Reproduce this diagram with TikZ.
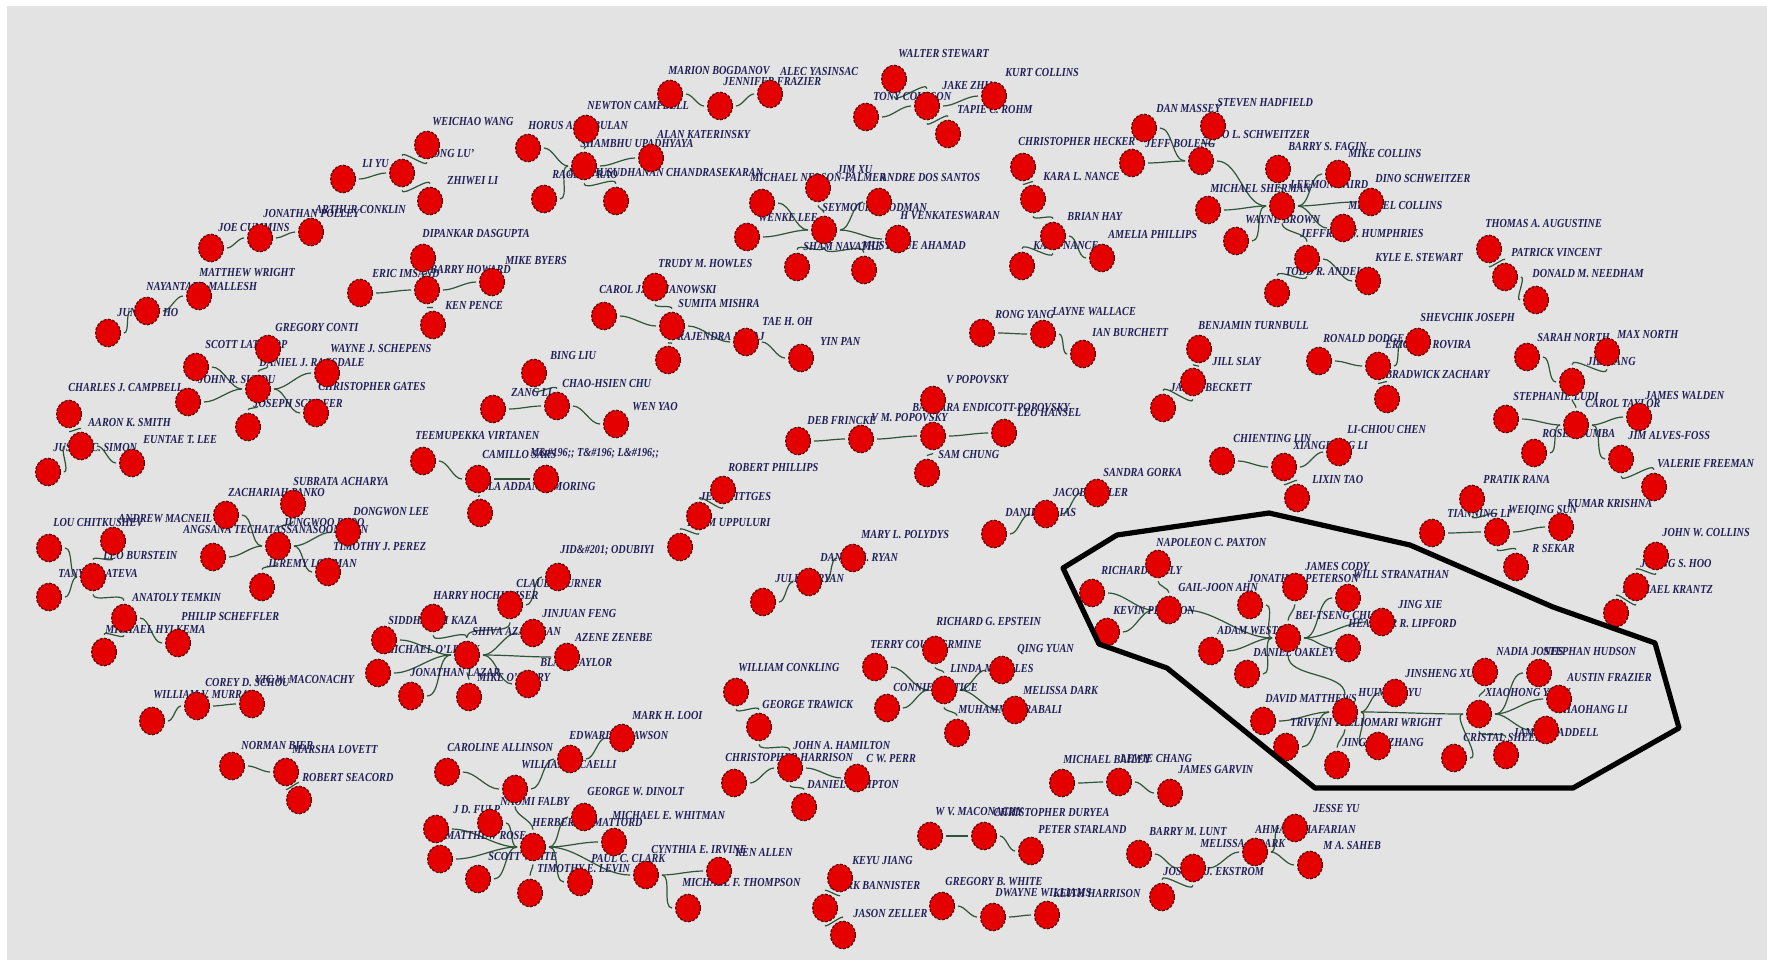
\documentclass[tikz,border=0pt]{standalone}
\usepackage{fontspec}
\usepackage{graphicx}
\setmainfont{Liberation Serif}
\usetikzlibrary{shapes.geometric}
\definecolor{bgg}{RGB}{227,227,227}
\definecolor{nodered}{RGB}{228,0,0}
\definecolor{noderim}{RGB}{90,10,10}
\definecolor{edgegreen}{RGB}{45,85,55}
\definecolor{labnavy}{RGB}{32,32,88}
\pgfdeclarelayer{bg}
\pgfdeclarelayer{edges}
\pgfdeclarelayer{labels}
\pgfdeclarelayer{top}
\pgfsetlayers{bg,edges,labels,main,top}
\tikzset{
  pn/.style={ellipse,fill=nodered,draw=noderim,line width=0.6pt,dash pattern=on 1.4pt off 0.8pt,minimum width=12.4pt,minimum height=13.8pt,inner sep=0pt},
  lab/.style={anchor=west,inner sep=0pt,text=labnavy,font=\bfseries\itshape\fontsize{5.1pt}{6pt}\selectfont},
  edge/.style={draw=edgegreen,line width=0.6pt,shorten <=1.5pt,shorten >=1.5pt},
  hull/.style={draw=black,line width=2.6pt,line join=round}
}
\newcommand\mkpers[3]{\node[pn] (#1) at (#2,#3) {};}
\newcommand\mklbl[4]{\node[lab] (#1) at (#2,#3) {\scalebox{1}[1.2]{#4}};}
\begin{document}
\begin{tikzpicture}[x=0.5pt,y=-0.5pt]
\useasboundingbox (0,0) rectangle (1767,960);
\begin{pgfonlayer}{bg}
\fill[white] (0,0) rectangle (1767,960);
\fill[bgg] (7,6) rectangle (1767,960);
\end{pgfonlayer}
% ---------------- persons ----------------
\mkpers{a1}{343}{179}\mkpers{a2}{402}{173}\mkpers{a3}{427}{145}\mkpers{a4}{430}{201}
\mkpers{b1}{211}{248}\mkpers{b2}{260}{238}\mkpers{b3}{311}{232}
\mkpers{c1}{108}{333}\mkpers{c2}{147}{311}\mkpers{c3}{199}{296}
\mkpers{d1}{423}{258}\mkpers{d2}{360}{293}\mkpers{d3}{427}{290}\mkpers{d4}{433}{325}\mkpers{d5}{492}{282}
\mkpers{e1}{528}{148}\mkpers{e2}{586}{129}\mkpers{e3}{584}{166}\mkpers{e4}{651}{158}\mkpers{e5}{544}{199}\mkpers{e6}{616}{201}
\mkpers{f1}{670}{94}\mkpers{f2}{720}{106}\mkpers{f3}{770}{94}
\mkpers{g1}{894}{79}\mkpers{g2}{927}{106}\mkpers{g3}{994}{96}\mkpers{g4}{948}{134}\mkpers{g5}{866}{117}
\mkpers{h1}{762}{203}\mkpers{h2}{818}{188}\mkpers{h3}{824}{230}\mkpers{h4}{747}{237}\mkpers{h5}{797}{267}\mkpers{h6}{864}{270}\mkpers{h7}{879}{202}\mkpers{h8}{898}{239}
\mkpers{i1}{655}{287}\mkpers{i2}{604}{316}\mkpers{i3}{672}{326}\mkpers{i4}{668}{360}\mkpers{i5}{746}{342}\mkpers{i6}{801}{358}
\mkpers{j1}{1023}{167}\mkpers{j2}{1033}{199}\mkpers{j3}{1053}{236}\mkpers{j4}{1022}{266}\mkpers{j5}{1102}{258}
\mkpers{k1}{1144}{128}\mkpers{k2}{1213}{126}\mkpers{k3}{1201}{161}\mkpers{k4}{1132}{163}\mkpers{k5}{1282}{206}
\mkpers{k6}{1208}{210}\mkpers{k7}{1236}{241}\mkpers{k8}{1278}{169}\mkpers{k9}{1307}{259}\mkpers{k10}{1277}{293}
\mkpers{k11}{1338}{174}\mkpers{k12}{1371}{202}\mkpers{k13}{1343}{228}\mkpers{k14}{1368}{281}
\mkpers{l1}{1489}{249}\mkpers{l2}{1505}{277}\mkpers{l3}{1536}{300}
\mkpers{m1}{982}{333}\mkpers{m2}{1043}{334}\mkpers{m3}{1083}{354}
\mkpers{n1}{1199}{349}\mkpers{n2}{1193}{382}\mkpers{n3}{1163}{408}
\mkpers{o1}{1319}{361}\mkpers{o2}{1378}{366}\mkpers{o3}{1418}{342}\mkpers{o4}{1387}{399}
\mkpers{p1}{1527}{357}\mkpers{p2}{1607}{352}\mkpers{p3}{1572}{382}\mkpers{p4}{1506}{419}\mkpers{p5}{1576}{425}
\mkpers{p6}{1534}{453}\mkpers{p7}{1639}{417}\mkpers{p8}{1621}{459}\mkpers{p9}{1654}{487}
\mkpers{q1}{1472}{499}\mkpers{q2}{1432}{533}\mkpers{q3}{1497}{532}\mkpers{q4}{1561}{527}\mkpers{q5}{1516}{567}
\mkpers{r1}{1656}{556}\mkpers{r2}{1636}{587}\mkpers{r3}{1616}{613}
\mkpers{s1}{268}{349}\mkpers{s2}{196}{367}\mkpers{s3}{327}{373}\mkpers{s4}{258}{389}\mkpers{s5}{188}{402}\mkpers{s6}{316}{413}\mkpers{s7}{248}{427}
\mkpers{t1}{69}{414}\mkpers{t2}{81}{446}\mkpers{t3}{48}{472}\mkpers{t4}{132}{463}
\mkpers{u1}{226}{515}\mkpers{u2}{293}{504}\mkpers{u3}{348}{532}\mkpers{u4}{213}{557}\mkpers{u5}{278}{546}\mkpers{u6}{328}{572}\mkpers{u7}{262}{587}
\mkpers{v1}{49}{548}\mkpers{v2}{113}{541}\mkpers{v3}{93}{577}\mkpers{v4}{49}{597}\mkpers{v5}{124}{618}\mkpers{v6}{104}{652}\mkpers{v7}{178}{643}
\mkpers{w1}{534}{373}\mkpers{w2}{493}{409}\mkpers{w3}{557}{406}\mkpers{w4}{616}{424}
\mkpers{x1}{423}{461}\mkpers{x2}{478}{479}\mkpers{x3}{546}{479}\mkpers{x4}{480}{513}
\mkpers{y1}{723}{490}\mkpers{y2}{699}{516}\mkpers{y3}{680}{547}
\mkpers{z1}{798}{441}\mkpers{z2}{861}{439}\mkpers{z3}{933}{436}\mkpers{z4}{933}{400}\mkpers{z5}{1004}{433}\mkpers{z6}{927}{473}
\mkpers{aa1}{1097}{493}\mkpers{aa2}{1046}{514}\mkpers{aa3}{994}{534}
\mkpers{ab1}{1222}{461}\mkpers{ab2}{1284}{467}\mkpers{ab3}{1297}{498}\mkpers{ab4}{1339}{452}
\mkpers{ac1}{853}{558}\mkpers{ac2}{809}{582}\mkpers{ac3}{763}{602}
\mkpers{ad1}{433}{618}\mkpers{ad2}{510}{605}\mkpers{ad3}{384}{640}\mkpers{ad4}{467}{655}\mkpers{ad5}{378}{673}\mkpers{ad6}{411}{696}
\mkpers{ad7}{469}{697}\mkpers{ad8}{528}{684}\mkpers{ad9}{567}{657}\mkpers{ad10}{533}{633}\mkpers{ad11}{558}{577}
\mkpers{ae1}{152}{721}\mkpers{ae2}{197}{706}\mkpers{ae3}{252}{704}
\mkpers{af1}{232}{766}\mkpers{af2}{286}{772}\mkpers{af3}{299}{800}
\mkpers{ag1}{447}{772}\mkpers{ag2}{515}{789}\mkpers{ag3}{570}{759}\mkpers{ag4}{622}{738}\mkpers{ag5}{490}{823}\mkpers{ag6}{584}{817}
\mkpers{ag7}{436}{829}\mkpers{ag8}{440}{859}\mkpers{ag9}{533}{847}\mkpers{ag10}{614}{842}\mkpers{ag11}{478}{879}\mkpers{ag12}{530}{893}
\mkpers{ag13}{580}{882}\mkpers{ag14}{646}{875}\mkpers{ag15}{719}{871}\mkpers{ag16}{688}{908}
\mkpers{ah1}{736}{692}\mkpers{ah2}{759}{727}\mkpers{ah3}{790}{768}\mkpers{ah4}{734}{783}\mkpers{ah5}{804}{807}\mkpers{ah6}{857}{778}
\mkpers{ai1}{840}{878}\mkpers{ai2}{825}{908}\mkpers{ai3}{843}{935}
\mkpers{aj1}{875}{667}\mkpers{aj2}{935}{650}\mkpers{aj3}{1002}{670}\mkpers{aj4}{944}{690}\mkpers{aj5}{887}{708}\mkpers{aj6}{957}{733}\mkpers{aj7}{1015}{710}
\mkpers{ak1}{1062}{783}\mkpers{ak2}{1119}{782}\mkpers{ak3}{1170}{793}
\mkpers{al1}{930}{836}\mkpers{al2}{984}{836}\mkpers{al3}{1031}{851}
\mkpers{am1}{942}{906}\mkpers{am2}{993}{917}\mkpers{am3}{1047}{915}
\mkpers{an1}{1139}{854}\mkpers{an2}{1193}{868}\mkpers{an3}{1162}{897}\mkpers{an4}{1255}{852}\mkpers{an5}{1295}{828}\mkpers{an6}{1310}{865}
\mkpers{ao1}{1158}{564}\mkpers{ao2}{1092}{593}\mkpers{ao3}{1169}{610}\mkpers{ao4}{1107}{632}\mkpers{ao5}{1250}{605}\mkpers{ao6}{1295}{587}
\mkpers{ao7}{1288}{638}\mkpers{ao8}{1211}{651}\mkpers{ao9}{1247}{674}\mkpers{ao10}{1348}{598}\mkpers{ao11}{1382}{622}\mkpers{ao12}{1348}{648}
\mkpers{ao13}{1345}{712}\mkpers{ao14}{1263}{721}\mkpers{ao15}{1286}{747}\mkpers{ao16}{1395}{693}\mkpers{ao17}{1378}{746}\mkpers{ao18}{1337}{765}
\mkpers{ao19}{1479}{714}\mkpers{ao20}{1485}{672}\mkpers{ao21}{1539}{673}\mkpers{ao22}{1559}{699}\mkpers{ao23}{1546}{730}\mkpers{ao24}{1454}{758}\mkpers{ao25}{1506}{755}
% ---------------- connectors ----------------
\begin{pgfonlayer}{edges}
% mostly horizontal links: leave and enter horizontally
\foreach \u/\v in {a1/a2,b1/b2,b2/b3,c1/c2,c2/c3,d2/d3,d3/d5,e1/e3,e3/e4,e5/e3,f1/f2,f2/f3,g2/g3,g5/g2,
 h1/h3,h4/h3,h3/h7,h3/h8,i2/i3,i3/i5,i5/i6,j3/j5,k1/k3,k4/k3,k3/k5,k6/k5,k7/k5,k5/k11,k5/k12,k5/k13,k9/k14,
 l2/l3,m1/m2,m2/m3,o1/o2,o2/o3,p1/p3,p4/p5,p6/p5,p5/p7,p5/p8,q2/q3,q3/q4,
 s2/s4,s4/s3,s5/s4,s4/s6,t3/t2,t2/t4,u1/u5,u5/u3,u4/u5,u5/u6,v1/v3,v4/v3,v5/v7,w2/w3,w3/w4,x1/x2,x2/x3,
 z1/z2,z2/z3,z3/z5,aa2/aa1,aa3/aa2,ab1/ab2,ab2/ab4,ac2/ac1,ac3/ac2,
 ad3/ad4,ad5/ad4,ad6/ad4,ad4/ad8,ad4/ad9,ad4/ad10,ad2/ad11,ae1/ae2,ae2/ae3,af1/af2,
 ag1/ag2,ag2/ag3,ag3/ag4,ag5/ag9,ag9/ag6,ag7/ag9,ag8/ag9,ag9/ag10,ag11/ag9,ag9/ag13,ag9/ag14,ag14/ag15,ag14/ag16,
 ah4/ah3,ah3/ah6,aj1/aj4,aj4/aj3,aj5/aj4,aj4/aj7,ak1/ak2,ak2/ak3,al1/al2,al2/al3,am1/am2,am2/am3,
 an1/an2,an2/an4,an4/an5,an4/an6,
 ao2/ao3,ao4/ao3,ao3/ao7,ao5/ao7,ao8/ao7,ao9/ao7,ao7/ao10,ao7/ao11,ao7/ao12,
 ao14/ao13,ao15/ao13,ao13/ao16,ao13/ao17,ao13/ao19,ao19/ao21,ao19/ao22,ao19/ao23,ao24/ao19}
 \draw[edge] (\u) to[out=0,in=180,looseness=0.9] (\v);
% mostly vertical links: leave and enter vertically
\foreach \u/\v in {a3/a2,a2/a4,d1/d3,d3/d4,e2/e3,e3/e6,g1/g2,g2/g4,h2/h3,h3/h5,h3/h6,i1/i3,i3/i4,
 j1/j2,j2/j3,j3/j4,k2/k3,k8/k5,k5/k9,k9/k10,l1/l2,n1/n2,n2/n3,o2/o4,p2/p3,p3/p5,p8/p9,q1/q3,q3/q5,r1/r2,r2/r3,
 s1/s4,s4/s7,t1/t2,u2/u5,u5/u7,v2/v3,v3/v5,v5/v6,w1/w3,x2/x4,y1/y2,y2/y3,z4/z3,z3/z6,ab2/ab3,
 ad1/ad4,ad2/ad4,ad4/ad7,af2/af3,ag2/ag9,ag9/ag12,ah1/ah2,ah2/ah3,ah3/ah5,ai1/ai2,ai2/ai3,aj2/aj4,aj4/aj6,an2/an3,
 ao1/ao3,ao6/ao7,ao7/ao13,ao13/ao18,ao20/ao19,ao19/ao25}
 \draw[edge] (\u) to[out=-90,in=90,looseness=0.9] (\v);
\end{pgfonlayer}
% ---------------- labels ----------------
\begin{pgfonlayer}{labels}
\mklbl{ta1}{432}{122}{WEICHAO WANG}\mklbl{ta2}{418}{153}{ZHONG LU'}\mklbl{ta3}{362}{164}{LI YU}\mklbl{ta4}{447}{181}{ZHIWEI LI}
\mklbl{tb1}{263}{213}{JONATHAN POLLEY}\mklbl{tb2}{315}{209}{ARTHUR CONKLIN}\mklbl{tb3}{218}{227}{JOE CUMMINS}
\mklbl{tc1}{199}{273}{MATTHEW WRIGHT}\mklbl{tc2}{146}{286}{NAYANTARA MALLESH}\mklbl{tc3}{117}{313}{JUNWEN HO}
\mklbl{td1}{422}{233}{DIPANKAR DASGUPTA}\mklbl{td2}{372}{273}{ERIC IMSAND}\mklbl{td3}{430}{270}{BARRY HOWARD}\mklbl{td4}{505}{260}{MIKE BYERS}\mklbl{td5}{445}{305}{KEN PENCE}
\mklbl{te1}{528}{126}{HORUS AKKABULAN}\mklbl{te2}{587}{106}{NEWTON CAMPBELL}\mklbl{te3}{657}{135}{ALAN KATERINSKY}\mklbl{te4}{580}{143}{SHAMBHU UPADHYAYA}
\mklbl{te5}{552}{175}{RAGHAV RAO}\mklbl{te6}{568}{172}{MADHUSUDHANAN CHANDRASEKARAN}
\mklbl{tf1}{668}{71}{MARION BOGDANOV}\mklbl{tf2}{780}{72}{ALEC YASINSAC}\mklbl{tf3}{723}{82}{JENNIFER FRAZIER}
\mklbl{tg1}{898}{54}{WALTER STEWART}\mklbl{tg2}{1005}{73}{KURT COLLINS}\mklbl{tg3}{942}{86}{JAKE ZHU}\mklbl{tg4}{873}{97}{TONY COULSON}\mklbl{tg5}{957}{110}{TAPIE C. ROHM}
\mklbl{th1}{750}{177}{MICHAEL NELSON-PALMER}\mklbl{th2}{880}{177}{ANDRE DOS SANTOS}\mklbl{th3}{837}{170}{JIM XU}\mklbl{th4}{822}{207}{SEYMOUR GOODMAN}
\mklbl{th5}{900}{216}{H VENKATESWARAN}\mklbl{th6}{758}{218}{WENKE LEE}\mklbl{th7}{803}{247}{SHAM NAVATHE}\mklbl{th8}{862}{246}{MUSTAQUE AHAMAD}
\mklbl{ti1}{658}{264}{TRUDY M. HOWLES}\mklbl{ti2}{599}{290}{CAROL J. ROMANOWSKI}\mklbl{ti3}{678}{303}{SUMITA MISHRA}\mklbl{ti4}{762}{322}{TAE H. OH}
\mklbl{ti5}{677}{337}{RAJENDRA K. RAJ}\mklbl{ti6}{820}{341}{YIN PAN}
\mklbl{tj1}{1018}{142}{CHRISTOPHER HECKER}\mklbl{tj2}{1043}{177}{KARA L. NANCE}\mklbl{tj3}{1067}{216}{BRIAN HAY}\mklbl{tj4}{1108}{234}{AMELIA PHILLIPS}\mklbl{tj5}{1033}{245}{KARA NANCE}
\mklbl{tk1}{1156}{108}{DAN MASSEY}\mklbl{tk2}{1217}{103}{STEVEN HADFIELD}\mklbl{tk3}{1145}{143}{JEFF BOLENG}\mklbl{tk4}{1203}{135}{DINO L. SCHWEITZER}
\mklbl{tk5}{1288}{147}{BARRY S. FAGIN}\mklbl{tk6}{1348}{153}{MIKE COLLINS}\mklbl{tk7}{1210}{188}{MICHAEL SHERMAN}\mklbl{tk8}{1290}{185}{LEEMON BAIRD}
\mklbl{tk9}{1375}{179}{DINO SCHWEITZER}\mklbl{tk10}{1348}{205}{MICHAEL COLLINS}\mklbl{tk11}{1245}{220}{WAYNE BROWN}\mklbl{tk12}{1300}{234}{JEFFREY W. HUMPHRIES}
\mklbl{tk13}{1285}{272}{TODD R. ANDEL}\mklbl{tk14}{1375}{258}{KYLE E. STEWART}
\mklbl{tl1}{1485}{224}{THOMAS A. AUGUSTINE}\mklbl{tl2}{1511}{253}{PATRICK VINCENT}\mklbl{tl3}{1532}{274}{DONALD M. NEEDHAM}
\mklbl{tm1}{995}{314}{RONG YANG}\mklbl{tm2}{1052}{312}{LAYNE WALLACE}\mklbl{tm3}{1092}{332}{IAN BURCHETT}
\mklbl{tn1}{1198}{326}{BENJAMIN TURNBULL}\mklbl{tn2}{1212}{361}{JILL SLAY}\mklbl{tn3}{1170}{387}{JASON BECKETT}
\mklbl{to1}{1420}{318}{SHEVCHIK JOSEPH}\mklbl{to2}{1323}{338}{RONALD DODGE}\mklbl{to3}{1385}{345}{ERICSON ROVIRA}\mklbl{to4}{1385}{375}{BRADWICK ZACHARY}
\mklbl{tp1}{1537}{337}{SARAH NORTH}\mklbl{tp2}{1617}{334}{MAX NORTH}\mklbl{tp3}{1587}{362}{JIE WANG}\mklbl{tp4}{1513}{396}{STEPHANIE LUDI}
\mklbl{tp5}{1585}{403}{CAROL TAYLOR}\mklbl{tp6}{1645}{396}{JAMES WALDEN}\mklbl{tp7}{1542}{433}{ROSE SHUMBA}\mklbl{tp8}{1628}{436}{JIM ALVES-FOSS}\mklbl{tp9}{1657}{464}{VALERIE FREEMAN}
\mklbl{tq1}{1483}{479}{PRATIK RANA}\mklbl{tq2}{1447}{513}{TIANNING LI}\mklbl{tq3}{1508}{510}{WEIQING SUN}\mklbl{tq4}{1567}{503}{KUMAR KRISHNA}\mklbl{tq5}{1532}{548}{R SEKAR}
\mklbl{tr1}{1662}{533}{JOHN W. COLLINS}\mklbl{tr2}{1640}{564}{JOHNG S. HOO}\mklbl{tr3}{1622}{589}{MICHAEL KRANTZ}
\mklbl{ts1}{275}{327}{GREGORY CONTI}\mklbl{ts2}{205}{344}{SCOTT LATHROP}\mklbl{ts3}{330}{349}{WAYNE J. SCHEPENS}\mklbl{ts4}{259}{363}{DANIEL J. RAGSDALE}
\mklbl{ts5}{318}{386}{CHRISTOPHER GATES}\mklbl{ts6}{68}{388}{CHARLES J. CAMPBELL}\mklbl{ts7}{198}{380}{JOHN R. SURDU}\mklbl{ts8}{253}{403}{JOSEPH SCHAFER}
\mklbl{tt1}{88}{423}{AARON K. SMITH}\mklbl{tt2}{143}{440}{EUNTAE T. LEE}\mklbl{tt3}{53}{448}{JUSTIN C. SIMON}
\mklbl{tu1}{293}{481}{SUBRATA ACHARYA}\mklbl{tu2}{228}{492}{ZACHARIAH PANKO}\mklbl{tu3}{353}{512}{DONGWON LEE}\mklbl{tu4}{118}{519}{ANDREW MACNEIL}
\mklbl{tu5}{183}{529}{ANGSANA TECHATASSANASOONTORN}\mklbl{tu6}{283}{523}{JUNGWOO RYOO}\mklbl{tu7}{333}{547}{TIMOTHY J. PEREZ}\mklbl{tu8}{267}{564}{JEREMY LOWMAN}
\mklbl{tv1}{53}{523}{LOU CHITKUSHEV}\mklbl{tv2}{103}{555}{LEO BURSTEIN}\mklbl{tv3}{58}{574}{TANYA ZLATEVA}\mklbl{tv4}{132}{597}{ANATOLY TEMKIN}
\mklbl{tv5}{181}{616}{PHILIP SCHEFFLER}\mklbl{tv6}{105}{629}{MICHAEL HYLKEMA}
\mklbl{tw1}{550}{355}{BING LIU}\mklbl{tw2}{511}{392}{ZANG LI}\mklbl{tw3}{562}{383}{CHAO-HSIEN CHU}\mklbl{tw4}{632}{407}{WEN YAO}
\mklbl{tx1}{415}{436}{TEEMUPEKKA VIRTANEN}\mklbl{tx2}{482}{453}{CAMILLO S\"ARS}\mklbl{tx3}{530}{453}{M\&\#196;; T\&\#196; L\&\#196;;}\mklbl{tx4}{468}{486}{PAULA ADDANKI-MORING}
\mklbl{ty1}{728}{467}{ROBERT PHILLIPS}\mklbl{ty2}{700}{496}{JEFF PITTGES}\mklbl{ty3}{687}{523}{PREM UPPULURI}
\mklbl{tz1}{807}{420}{DEB FRINCKE}\mklbl{tz2}{871}{418}{V M. POPOVSKY}\mklbl{tz3}{946}{380}{V POPOVSKY}\mklbl{tz4}{912}{408}{BARBARA ENDICOTT-POPOVSKY}
\mklbl{tz5}{1017}{412}{LEO HANSEL}\mklbl{tz6}{938}{454}{SAM CHUNG}
\mklbl{taa1}{1103}{472}{SANDRA GORKA}\mklbl{taa2}{1053}{492}{JACOB MILLER}\mklbl{taa3}{1005}{512}{DANIEL ELIAS}
\mklbl{tab1}{1233}{438}{CHIENTING LIN}\mklbl{tab2}{1293}{445}{XIANGDONG LI}\mklbl{tab3}{1347}{429}{LI-CHIOU CHEN}\mklbl{tab4}{1312}{479}{LIXIN TAO}
\mklbl{tac1}{861}{535}{MARY L. POLYDYS}\mklbl{tac2}{820}{558}{DANIEL J. RYAN}\mklbl{tac3}{775}{579}{JULIE J. RYAN}
\mklbl{tad1}{433}{595}{HARRY HOCHHEISER}\mklbl{tad2}{388}{620}{SIDDHARTH KAZA}\mklbl{tad3}{516}{583}{CLAUDE TURNER}\mklbl{tad4}{560}{550}{JID\&\#201; ODUBIYI}
\mklbl{tad5}{542}{613}{JINJUAN FENG}\mklbl{tad6}{472}{632}{SHIVA AZADEGAN}\mklbl{tad7}{575}{637}{AZENE ZENEBE}\mklbl{tad8}{385}{649}{MICHAEL O'LEARY}
\mklbl{tad9}{540}{662}{BLAIR TAYLOR}\mklbl{tad10}{410}{672}{JONATHAN LAZAR}\mklbl{tad11}{477}{677}{MIKE O'LEARY}
\mklbl{tae1}{205}{683}{COREY D. SCHOU}\mklbl{tae2}{255}{680}{VIC W. MACONACHY}\mklbl{tae3}{153}{695}{WILLIAM V. MURRAY}
\mklbl{taf1}{241}{745}{NORMAN BIER}\mklbl{taf2}{292}{750}{MARSHA LOVETT}\mklbl{taf3}{302}{777}{ROBERT SEACORD}
\mklbl{tag1}{447}{747}{CAROLINE ALLINSON}\mklbl{tag2}{632}{716}{MARK H. LOOI}\mklbl{tag3}{569}{736}{EDWARD P. DAWSON}\mklbl{tag4}{521}{765}{WILLIAM J. CAELLI}
\mklbl{tag5}{587}{792}{GEORGE W. DINOLT}\mklbl{tag6}{500}{801}{NAOMI FALBY}\mklbl{tag7}{453}{810}{J D. FULP}\mklbl{tag8}{532}{823}{HERBERT J. MATTORD}
\mklbl{tag9}{612}{816}{MICHAEL E. WHITMAN}\mklbl{tag10}{445}{836}{MATTHEW ROSE}\mklbl{tag11}{488}{857}{SCOTT WHITE}\mklbl{tag12}{537}{869}{TIMOTHY E. LEVIN}
\mklbl{tag13}{591}{859}{PAUL C. CLARK}\mklbl{tag14}{651}{850}{CYNTHIA E. IRVINE}\mklbl{tag15}{735}{852}{KEN ALLEN}\mklbl{tag16}{682}{883}{MICHAEL F. THOMPSON}
\mklbl{tah1}{738}{668}{WILLIAM CONKLING}\mklbl{tah2}{762}{705}{GEORGE TRAWICK}\mklbl{tah3}{793}{746}{JOHN A. HAMILTON}\mklbl{tah4}{725}{757}{CHRISTOPHER HARRISON}
\mklbl{tah5}{866}{759}{C W. PERR}\mklbl{tah6}{807}{784}{DANIEL COMPTON}
\mklbl{tai1}{852}{860}{KEYU JIANG}\mklbl{tai2}{830}{885}{MARK BANNISTER}\mklbl{tai3}{853}{913}{JASON ZELLER}
\mklbl{taj1}{936}{622}{RICHARD G. EPSTEIN}\mklbl{taj2}{870}{644}{TERRY COUNTERMINE}\mklbl{taj3}{1017}{649}{QING YUAN}\mklbl{taj4}{950}{668}{LINDA MORALES}
\mklbl{taj5}{893}{687}{CONNIE JUSTICE}\mklbl{taj6}{1023}{690}{MELISSA DARK}\mklbl{taj7}{958}{710}{MUHAMMAD RABALI}
\mklbl{tak1}{1063}{759}{MICHAEL BAILEY}\mklbl{tak2}{1120}{759}{LEWIE CHANG}\mklbl{tak3}{1178}{770}{JAMES GARVIN}
\mklbl{tal1}{935}{812}{W V. MACONACHY}\mklbl{tal2}{993}{812}{CHRISTOPHER DURYEA}\mklbl{tal3}{1038}{829}{PETER STARLAND}
\mklbl{tam1}{945}{882}{GREGORY B. WHITE}\mklbl{tam2}{995}{893}{DWAYNE WILLIAMS}\mklbl{tam3}{1053}{893}{KEITH HARRISON}
\mklbl{tan1}{1149}{832}{BARRY M. LUNT}\mklbl{tan2}{1200}{844}{MELISSA J. DARK}\mklbl{tan3}{1163}{872}{JOSEPH J. EKSTROM}
\mklbl{tan4}{1313}{808}{JESSE YU}\mklbl{tan5}{1255}{829}{AHMAD GHAFARIAN}\mklbl{tan6}{1323}{846}{M A. SAHEB}
\mklbl{tao1}{1156}{543}{NAPOLEON C. PAXTON}\mklbl{tao2}{1101}{570}{RICHARD SEELY}\mklbl{tao3}{1178}{587}{GAIL-JOON AHN}\mklbl{tao4}{1113}{611}{KEVIN PEARSON}
\mklbl{tao5}{1305}{566}{JAMES CODY}\mklbl{tao6}{1248}{578}{JONATHAN PETERSON}\mklbl{tao7}{1353}{575}{WILL STRANATHAN}\mklbl{tao8}{1295}{615}{BEI-TSENG CHU}
\mklbl{tao9}{1398}{604}{JING XIE}\mklbl{tao10}{1348}{624}{HEATHER R. LIPFORD}\mklbl{tao11}{1217}{631}{ADAM WESTON}\mklbl{tao12}{1253}{652}{DANIEL OAKLEY}
\mklbl{tao13}{1265}{699}{DAVID MATTHEWS}\mklbl{tao14}{1290}{723}{TRIVENI}\mklbl{tao15}{1335}{723}{PALLIOMARI WRIGHT}\mklbl{tao16}{1358}{692}{HUIMING YU}
\mklbl{tao17}{1342}{742}{JINGHUI ZHANG}\mklbl{tao18}{1405}{673}{JINSHENG XU}\mklbl{tao19}{1496}{651}{NADIA JONES}\mklbl{tao20}{1543}{651}{STEPHAN HUDSON}
\mklbl{tao21}{1567}{677}{AUSTIN FRAZIER}\mklbl{tao22}{1485}{692}{XIAOHONG YUAN}\mklbl{tao23}{1560}{709}{XIAOHANG LI}\mklbl{tao24}{1463}{737}{CRISTAL SHEER}
\mklbl{tao25}{1513}{733}{JAMES WADDELL}
\end{pgfonlayer}
% ---------------- hull ----------------
\begin{pgfonlayer}{top}
\draw[hull] (1063,568) -- (1117,535) -- (1269,513) -- (1410,545) -- (1553,607) -- (1655,643) -- (1679,728) -- (1573,788) -- (1315,788) -- (1167,668) -- (1099,644) -- cycle;
\end{pgfonlayer}
\end{tikzpicture}
\end{document}
